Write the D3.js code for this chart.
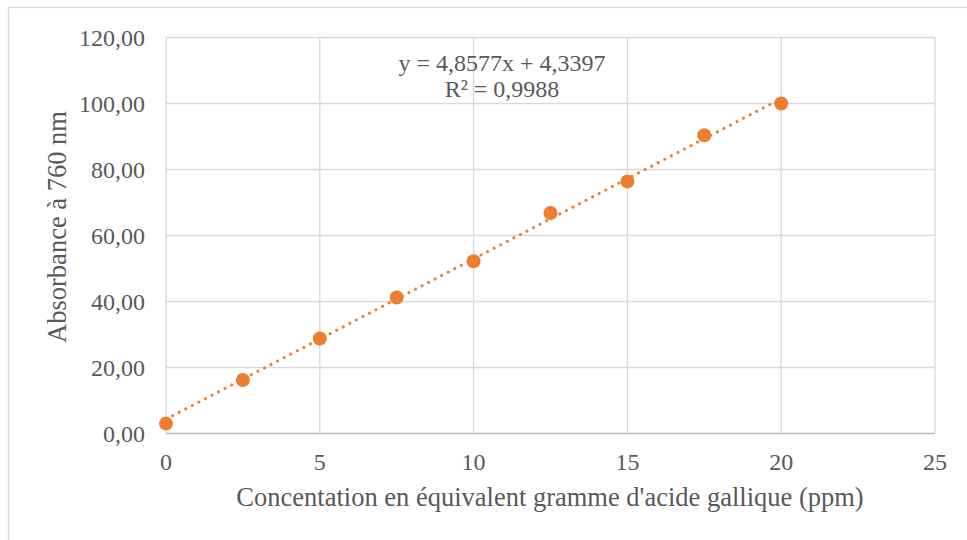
<!DOCTYPE html>
<html>
<head>
<meta charset="utf-8">
<script src="https://cdn.jsdelivr.net/npm/d3@7"></script>
<style>
  body { margin: 0; background: #fff; }
  svg text { font-family: "Liberation Serif", "Times New Roman", serif; fill: #595959; }
</style>
</head>
<body>
<svg id="chart" width="967" height="540"></svg>
<script>
// Data
const concentrations = [0, 2.5, 5, 7.5, 10, 12.5, 15, 17.5, 20];
const absorbances = [3.0, 16.2, 28.8, 41.2, 52.2, 66.8, 76.4, 90.4, 100.0];
const xTicks = [0, 5, 10, 15, 20, 25];
const yTicks = [0, 20, 40, 60, 80, 100, 120];
const trendSlope = 4.8577;
const trendIntercept = 4.3397;
const equationLines = ["y = 4,8577x + 4,3397", "R² = 0,9988"];

const svg = d3.select("#chart");
const margin = { left: 166, right: 32, top: 37.5, bottom: 106.5 };
const width = 967, height = 540;

// chart frame (runs off the right and bottom edges)
svg.append("rect")
  .attr("x", 8.5).attr("y", 7.5)
  .attr("width", 980).attr("height", 560)
  .attr("fill", "#fff").attr("stroke", "#d9d9d9").attr("stroke-width", 1.3);

const x = d3.scaleLinear().domain([0, 25]).range([margin.left, width - margin.right]);
const y = d3.scaleLinear().domain([0, 120]).range([height - margin.bottom, margin.top]);

// gridlines
svg.append("g").selectAll("line.h")
  .data(yTicks).enter().append("line")
  .attr("x1", x(0)).attr("x2", x(25))
  .attr("y1", d => y(d)).attr("y2", d => y(d))
  .attr("stroke", "#d9d9d9").attr("stroke-width", 1.3);

svg.append("g").selectAll("line.v")
  .data(xTicks).enter().append("line")
  .attr("x1", d => x(d)).attr("x2", d => x(d))
  .attr("y1", y(0)).attr("y2", y(120))
  .attr("stroke", "#d9d9d9").attr("stroke-width", 1.3);

// x axis line
svg.append("line")
  .attr("x1", x(0)).attr("x2", x(25))
  .attr("y1", y(0)).attr("y2", y(0))
  .attr("stroke", "#bfbfbf").attr("stroke-width", 1.3);

// y tick labels
const fmt = d => d3.format(".2f")(d).replace(".", ",");
svg.append("g").selectAll("text")
  .data(yTicks).enter().append("text")
  .attr("x", 145).attr("y", d => y(d))
  .attr("dy", "0.35em")
  .attr("text-anchor", "end")
  .attr("font-size", 24)
  .text(fmt);

// x tick labels
svg.append("g").selectAll("text")
  .data(xTicks).enter().append("text")
  .attr("x", d => x(d)).attr("y", 462)
  .attr("dy", "0.35em")
  .attr("text-anchor", "middle")
  .attr("font-size", 24)
  .text(d => d);

// axis titles
svg.append("text")
  .attr("x", 550).attr("y", 497)
  .attr("dy", "0.35em")
  .attr("text-anchor", "middle")
  .attr("font-size", 26.5)
  .text("Concentation en équivalent gramme d'acide gallique (ppm)");

svg.append("text")
  .attr("transform", "translate(57,227) rotate(-90)")
  .attr("dy", "0.35em")
  .attr("text-anchor", "middle")
  .attr("font-size", 26.5)
  .text("Absorbance à 760 nm");

// linear trendline
const trendData = [0, 20].map(c => [c, trendSlope * c + trendIntercept]);
svg.append("path")
  .datum(trendData)
  .attr("d", d3.line().x(d => x(d[0])).y(d => y(d[1])))
  .attr("fill", "none")
  .attr("stroke", "#ED7D31")
  .attr("stroke-width", 3)
  .attr("stroke-linecap", "round")
  .attr("stroke-dasharray", "0.1 7.3");

// points
svg.append("g").selectAll("circle")
  .data(concentrations.map((c, i) => [c, absorbances[i]]))
  .enter().append("circle")
  .attr("cx", d => x(d[0]))
  .attr("cy", d => y(d[1]))
  .attr("r", 7)
  .attr("fill", "#ED7D31");

// equation label
svg.append("g").selectAll("text")
  .data(equationLines).enter().append("text")
  .attr("x", 502).attr("y", (d, i) => 63 + i * 26)
  .attr("dy", "0.35em")
  .attr("text-anchor", "middle")
  .attr("font-size", 24)
  .text(d => d);
</script>
</body>
</html>
